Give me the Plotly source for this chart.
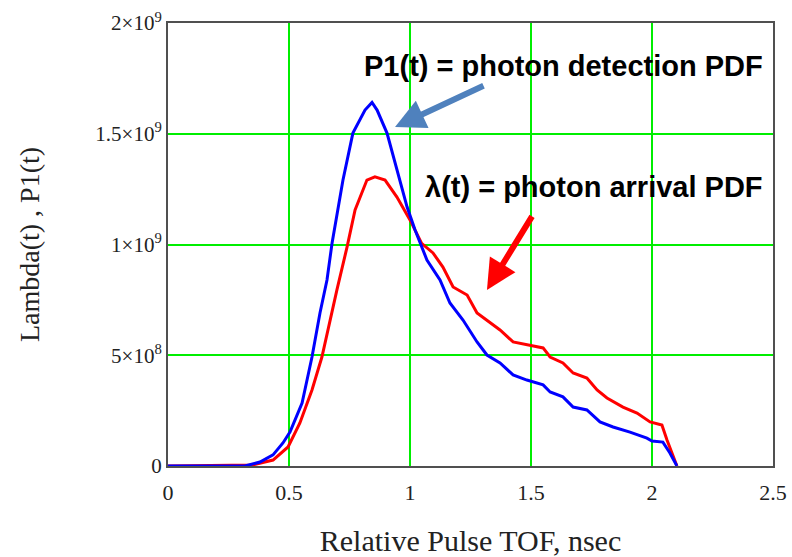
import plotly.graph_objects as go

# Relative pulse TOF (nsec) and PDF values
t_p1 = [0.0, 0.318, 0.38, 0.434, 0.475, 0.504, 0.554, 0.595, 0.628, 0.657, 0.678, 0.723,
        0.764, 0.814, 0.843, 0.864, 0.905, 0.946, 0.988, 1.021, 1.07, 1.124, 1.165,
        1.219, 1.277, 1.318, 1.372, 1.426, 1.483, 1.55, 1.579, 1.632, 1.674, 1.731,
        1.785, 1.839, 1.909, 1.979, 2.0, 2.045, 2.074, 2.103]
p1 = [0.0, 0.0, 0.018, 0.05, 0.104, 0.153, 0.284, 0.492, 0.691, 0.84, 1.007, 1.291,
      1.503, 1.607, 1.641, 1.607, 1.503, 1.336, 1.169, 1.065, 0.93, 0.84, 0.736,
      0.659, 0.56, 0.501, 0.465, 0.411, 0.388, 0.366, 0.334, 0.312, 0.266, 0.253,
      0.199, 0.176, 0.153, 0.126, 0.113, 0.108, 0.059, 0.0]

t_lam = [0.0, 0.351, 0.434, 0.496, 0.545, 0.595, 0.636, 0.669, 0.698, 0.74, 0.773,
         0.822, 0.855, 0.897, 0.946, 1.0, 1.048, 1.095, 1.136, 1.178, 1.236, 1.277,
         1.331, 1.372, 1.426, 1.483, 1.55, 1.579, 1.632, 1.674, 1.731, 1.773, 1.814,
         1.88, 1.938, 1.992, 2.041, 2.062, 2.103]
lam = [0.0, 0.005, 0.027, 0.086, 0.194, 0.343, 0.492, 0.659, 0.795, 0.989, 1.156,
       1.291, 1.305, 1.291, 1.214, 1.111, 1.005, 0.962, 0.898, 0.808, 0.772, 0.691,
       0.646, 0.614, 0.56, 0.546, 0.533, 0.492, 0.465, 0.42, 0.397, 0.343, 0.307,
       0.266, 0.239, 0.199, 0.185, 0.117, 0.0]

p1 = [v * 1e9 for v in p1]
lam = [v * 1e9 for v in lam]

x_ticks = [0, 0.5, 1, 1.5, 2, 2.5]
x_tick_text = ["0", "0.5", "1", "1.5", "2", "2.5"]
y_ticks = [0, 5e8, 1e9, 1.5e9, 2e9]
y_tick_text = ["0", "5×10<sup>8</sup>", "1×10<sup>9</sup>", "1.5×10<sup>9</sup>", "2×10<sup>9</sup>"]

serif = "Liberation Serif, Times New Roman, serif"
sans = "Liberation Sans, Arial, sans-serif"

fig = go.Figure()
fig.add_trace(go.Scatter(x=t_lam, y=lam, mode="lines",
                         line=dict(color="#ff0000", width=3), name="lambda"))
fig.add_trace(go.Scatter(x=t_p1, y=p1, mode="lines",
                         line=dict(color="#0000ff", width=3), name="P1"))

fig.update_layout(
    width=792, height=557,
    margin=dict(l=168, r=19, t=23, b=91),
    paper_bgcolor="white", plot_bgcolor="white",
    showlegend=False,
    xaxis=dict(range=[0, 2.5], tickvals=x_ticks, ticktext=x_tick_text,
               showgrid=True, gridcolor="#00ee00", gridwidth=1.5,
               showline=True, linecolor="#505050", linewidth=2, mirror=True,
               zeroline=False, ticks="", ticklabelstandoff=6, automargin=False,
               tickfont=dict(family=serif, size=22, color="#222"),
               title=dict(text="Relative Pulse TOF, nsec",
                          font=dict(family=serif, size=30, color="#222"), standoff=26)),
    yaxis=dict(range=[0, 2e9], tickvals=y_ticks, ticktext=y_tick_text,
               showgrid=True, gridcolor="#00ee00", gridwidth=1.5,
               showline=True, linecolor="#505050", linewidth=2, mirror=True,
               zeroline=False, ticks="", automargin=False,
               tickfont=dict(family=serif, size=21, color="#222"),
               title=dict(text="Lambda(t) , P1(t)",
                          font=dict(family=serif, size=28, color="#222"), standoff=48)),
)

fig.add_annotation(x=0.653, y=0.903, xref="paper", yref="paper",
                   xanchor="center", yanchor="middle",
                   text="P1(t) = photon detection PDF", showarrow=False,
                   font=dict(family=sans, size=29, color="#000", weight="bold"))
fig.add_annotation(x=0.704, y=0.63, xref="paper", yref="paper",
                   xanchor="center", yanchor="middle",
                   text="λ(t) = photon arrival PDF", showarrow=False,
                   font=dict(family=sans, size=29, color="#000", weight="bold"))

# arrows
fig.add_annotation(x=0.938, y=1.53e9, xref="x", yref="y", text="",
                   showarrow=True, ax=90, ay=-42, arrowcolor="#4f81bd",
                   arrowwidth=6, arrowhead=2, arrowsize=1.0)
fig.add_annotation(x=1.318, y=0.795e9, xref="x", yref="y", text="",
                   showarrow=True, ax=46, ay=-75, arrowcolor="#ff0000",
                   arrowwidth=6, arrowhead=2, arrowsize=1.0)

fig.write_html("out.html")
